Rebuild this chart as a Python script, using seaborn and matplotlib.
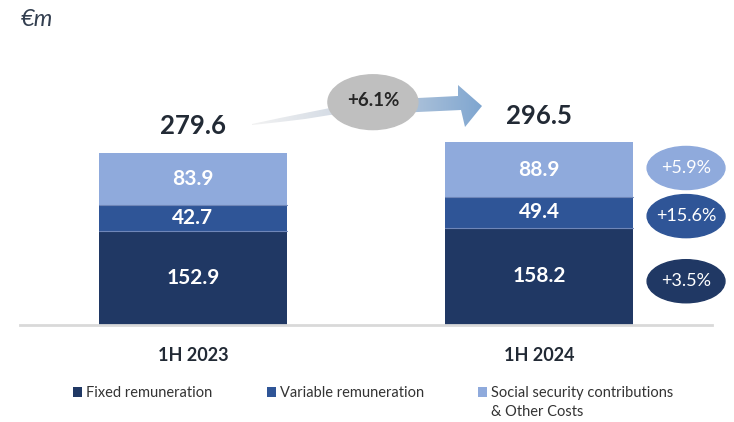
import numpy as np
import pandas as pd
import matplotlib
matplotlib.use("Agg")
import matplotlib.pyplot as plt
import seaborn as sns
from matplotlib.patches import Ellipse, Polygon, Patch
from matplotlib.colors import LinearSegmentedColormap

periods = ["1H 2023", "1H 2024"]
fixed = [152.9, 158.2]
variable = [42.7, 49.4]
social = [83.9, 88.9]
totals = [279.6, 296.5]
growth_total = "+6.1%"
growth_segments = ["+3.5%", "+15.6%", "+5.9%"]  # fixed, variable, social
series_names = ["Fixed remuneration", "Variable remuneration",
                "Social security contributions"]
series_name_extra = "& Other Costs"
unit_label = "€m"

C_FIXED = "#203864"
C_VAR = "#2F5597"
C_SOC = "#8FAADC"
C_TXT = "#222A35"

sns.set_theme(style="white")
plt.rcParams["font.family"] = ["Lato", "DejaVu Sans"]

W, H = 734, 422
fig = plt.figure(figsize=(W / 100, H / 100), dpi=100)

# overlay axes in pixel coordinates for the decorative arrow
ov = fig.add_axes([0, 0, 1, 1], zorder=0)
ov.set_xlim(0, W)
ov.set_ylim(H, 0)
ov.axis("off")

ax = fig.add_axes([20 / W, 97 / H, 692 / W, 325 / H], zorder=1)
ax.patch.set_alpha(0)

df = pd.DataFrame({
    "period": periods,
    "fixed": fixed,
    "variable": variable,
    "social": social,
})
df["cum_var"] = df["fixed"] + df["variable"]
df["cum_all"] = df["cum_var"] + df["social"]

bw = 0.543
sns.barplot(data=df, x="period", y="cum_all", color=C_SOC, saturation=1,
            width=bw, ax=ax, linewidth=0)
sns.barplot(data=df, x="period", y="cum_var", color=C_VAR, saturation=1,
            width=bw, ax=ax, linewidth=0)
sns.barplot(data=df, x="period", y="fixed", color=C_FIXED, saturation=1,
            width=bw, ax=ax, linewidth=0)

# thin separators between segments
for i in range(len(periods)):
    for yv in (df["fixed"][i], df["cum_var"][i]):
        ax.plot([i - bw / 2, i + bw / 2], [yv, yv], color="#6F86B8", lw=0.8, zorder=5)

ax.set_xlim(-0.5, 1.5)
ax.set_ylim(0, 528)
ax.set_xlabel("")
ax.set_ylabel("")
ax.set_yticks([])
for s in ("top", "left", "right"):
    ax.spines[s].set_visible(False)
ax.spines["bottom"].set_color("#D9D9D9")
ax.spines["bottom"].set_linewidth(2)
ax.tick_params(axis="x", length=0, pad=16)
for lab in ax.get_xticklabels():
    lab.set_fontsize(13)
    lab.set_fontweight("bold")
    lab.set_color(C_TXT)

# segment labels
for i in range(len(periods)):
    segs = [(0, fixed[i]), (fixed[i], variable[i]), (fixed[i] + variable[i], social[i])]
    for b, v in segs:
        ax.text(i, b + v / 2, f"{v:.1f}", ha="center", va="center",
                color="white", fontsize=15, fontweight="bold", zorder=6)
    ax.text(i, totals[i] + 43, f"{totals[i]:.1f}", ha="center", va="center",
            color=C_TXT, fontsize=18.5, fontweight="bold", zorder=6)

# right-side growth ellipses (at 1H 2024 segment midpoints)
i = 1
mids = [fixed[i] / 2, fixed[i] + variable[i] / 2, fixed[i] + variable[i] + social[i] / 2]
ecols = [C_FIXED, C_VAR, C_SOC]
offs = [-8, -6, 3]
for m, c, g, o in zip(mids, ecols, growth_segments, offs):
    ax.add_patch(Ellipse((1.425, m + o), 0.225, 70, color=c, clip_on=False, zorder=6))
    ax.text(1.425, m + o, g, ha="center", va="center", color="white",
            fontsize=13, zorder=7, clip_on=False)

# arrow (decorative, pixel coords) with gradient
pts = [(252, 124), (280, 118), (305, 113), (330, 108), (380, 101), (418, 98),
       (458, 96), (458, 85), (482, 106), (465, 127), (461, 110), (418, 112),
       (380, 114), (330, 115), (305, 119), (280, 122), (252, 125)]
poly = Polygon(pts, closed=True, facecolor="none", edgecolor="none")
ov.add_patch(poly)
grad = np.linspace(0, 1, 256).reshape(1, -1)
cmap = LinearSegmentedColormap.from_list("g", ["#F2F2F2", "#C9D3E0", "#7FA6D0"])
im = ov.imshow(grad, extent=(252, 482, 127, 85), cmap=cmap, aspect="auto", zorder=1)
im.set_clip_path(poly)

ax.add_patch(Ellipse((0.52, 362), 0.26, 89, color="#BFBFBF", clip_on=False, zorder=6))
ax.text(0.52, 364, growth_total, ha="center", va="center", color="#262626",
        fontsize=13.5, fontweight="bold", zorder=7)

# unit label
fig.text(21 / W, 1 - 19 / H, unit_label, ha="left", va="center", fontsize=17,
         style="italic", color="#333F50")

# legend
handles = [Patch(facecolor=c, edgecolor="none") for c in (C_FIXED, C_VAR, C_SOC)]
leg = fig.legend(handles, series_names, loc="upper left", ncol=3,
                 bbox_to_anchor=(66 / W, 1 - 379 / H), frameon=False,
                 fontsize=10.5, handlelength=0.62, handleheight=0.62,
                 handletextpad=0.28, columnspacing=3.7, borderpad=0)
for t in leg.get_texts():
    t.set_color("#333333")

fig.canvas.draw()
bb = leg.get_texts()[2].get_window_extent()
fig.text(bb.x0 / (W), (bb.y0 - 19 + (bb.y1 - bb.y0) / 2) / H, series_name_extra,
         ha="left", va="center", fontsize=10.5, color="#333333")

fig.savefig("out.png", dpi=100)
